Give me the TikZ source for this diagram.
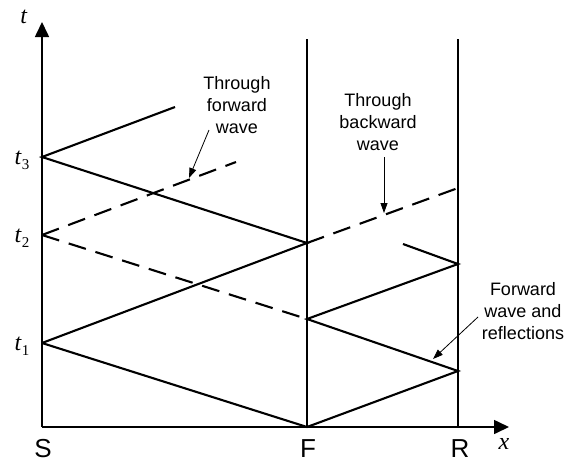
\documentclass[tikz,border=0pt]{standalone}
\usepackage{fontspec}
\setmainfont{Liberation Serif}
\setsansfont{Liberation Sans}
\usetikzlibrary{arrows.meta}
\newcommand{\tlab}[1]{\textit{t}\raisebox{-5pt}{\fontsize{15}{15}\selectfont #1}}
\begin{document}
\begin{tikzpicture}[x=1pt,y=-1pt,
  wave/.style={line width=2.1pt},
  wavedash/.style={line width=2.1pt,dash pattern=on 18pt off 10pt},
  bound/.style={line width=1.1pt},
  axis/.style={line width=1.6pt,-{Triangle[length=15pt,width=14pt]}},
  note/.style={line width=0.8pt,-{Triangle[length=10pt,width=7pt]}},
  lbl/.style={font=\sffamily\fontsize{18}{22}\selectfont,align=center,inner sep=0pt},
  big/.style={font=\sffamily\fontsize{26}{28}\selectfont,inner sep=0pt},
  mlbl/.style={font=\fontsize{24}{26}\selectfont,inner sep=0pt}]
\useasboundingbox (0,0) rectangle (564,463);
% key points
\coordinate (O) at (42,427);
\coordinate (T) at (42,22);
\coordinate (X) at (509,427);
\coordinate (t1) at (42,343);
\coordinate (t2) at (42,235);
\coordinate (t3) at (42,157);
\coordinate (Fb) at (307,427);
\coordinate (Ft) at (307,39);
\coordinate (Rb) at (458,427);
\coordinate (Rt) at (458,39);
\coordinate (F1) at (307,243);
\coordinate (F2) at (307,319);
\coordinate (R1) at (458,371);
\coordinate (R2) at (458,264);
\coordinate (R3) at (458,188);
\coordinate (e1) at (175,107);
\coordinate (e2) at (236,162);
\coordinate (e3) at (403,244);
% axes and boundaries
\draw[bound] (Fb) -- (Ft);
\draw[bound] (Rb) -- (Rt);
\draw[axis] (O) -- (T);
\draw[axis] (O) -- (X);
% waves
\draw[wave] (t1) -- (Fb) -- (R1) -- (F2) -- (R2) -- (e3);
\draw[wave] (t1) -- (F1) -- (t3) -- (e1);
\draw[wavedash] (t2) -- (e2);
\draw[wavedash] (t2) -- (F2);
\draw[wavedash] (F1) -- (R3);
% labels
\node[mlbl] (lt) at (24,17) {\textit{t}};
\node[mlbl] (l3) at (22,160) {\tlab{3}};
\node[mlbl] (l2) at (22,238) {\tlab{2}};
\node[mlbl] (l1) at (22,346) {\tlab{1}};
\node[mlbl] (lx) at (504,444) {\textit{x}};
\node[big] (lS) at (43,449) {S};
\node[big] (lF) at (308,449) {F};
\node[big] (lR) at (460,449) {R};
\node[lbl] (n1) at (237,105) {Through\\forward\\wave};
\node[lbl] (n2) at (378,122) {Through\\backward\\wave};
\node[lbl] (n3) at (523,311) {Forward\\wave and\\reflections};
\coordinate (a1s) at (209,130);
\coordinate (a1e) at (189,178);
\coordinate (a2s) at (384,157);
\coordinate (a2e) at (384,213);
\coordinate (a3s) at (478,317);
\coordinate (a3e) at (433,359);
\draw[note] (a1s) -- (a1e);
\draw[note] (a2s) -- (a2e);
\draw[note] (a3s) -- (a3e);
\end{tikzpicture}
\end{document}
